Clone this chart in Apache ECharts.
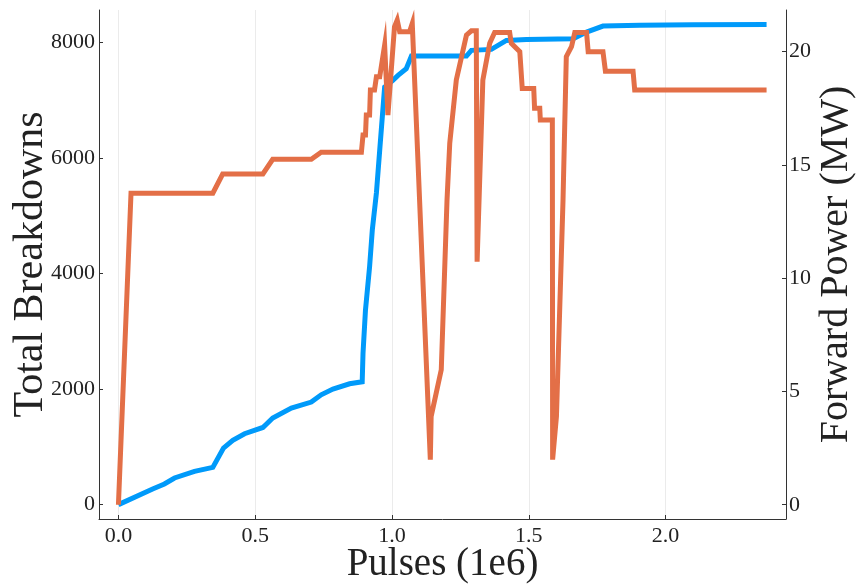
<!DOCTYPE html>
<html>
<head>
<meta charset="utf-8">
<script src="https://cdn.jsdelivr.net/npm/echarts@6/dist/echarts.min.js"></script>
<style>
html,body{margin:0;padding:0;background:#fff;}
#chart{width:863px;height:586px;}
</style>
</head>
<body>
<div id="chart"></div>
<script>
// Total breakdowns (left axis)
const breakdownPulses = [0, 0.125, 0.168, 0.205, 0.278, 0.345, 0.384, 0.418, 0.461, 0.528, 0.564, 0.632, 0.705, 0.741, 0.784, 0.845, 0.891, 0.894, 0.903, 0.918, 0.928, 0.943, 0.955, 0.973, 1.003, 1.022, 1.052, 1.071, 1.272, 1.290, 1.363, 1.418, 1.491, 1.662, 1.711, 1.771, 1.906, 2.1, 2.369];
const breakdowns = [0, 271, 357, 461, 576, 645, 980, 1112, 1227, 1336, 1499, 1671, 1775, 1901, 2000, 2092, 2126, 2622, 3371, 4119, 4760, 5400, 6136, 7230, 7346, 7432, 7548, 7766, 7766, 7865, 7882, 8038, 8055, 8066, 8181, 8285, 8300, 8310, 8314];
// Forward power (right axis)
const powerPulses = [0, 0.046, 0.345, 0.381, 0.528, 0.564, 0.705, 0.741, 0.888, 0.894, 0.903, 0.906, 0.918, 0.921, 0.936, 0.943, 0.955, 0.973, 0.979, 0.985, 1.009, 1.019, 1.028, 1.064, 1.074, 1.140, 1.143, 1.180, 1.201, 1.211, 1.235, 1.272, 1.290, 1.308, 1.311, 1.332, 1.357, 1.375, 1.430, 1.436, 1.467, 1.476, 1.518, 1.521, 1.540, 1.542, 1.586, 1.587, 1.601, 1.625, 1.637, 1.656, 1.668, 1.711, 1.717, 1.771, 1.780, 1.881, 1.887, 2.369];
const power = [0, 13.75, 13.75, 14.60, 14.60, 15.25, 15.25, 15.56, 15.56, 16.32, 16.32, 17.20, 17.20, 18.31, 18.31, 18.89, 18.89, 20.29, 20.29, 17.20, 21.10, 21.40, 20.88, 20.88, 21.25, 1.99, 3.90, 5.96, 13.45, 15.96, 18.75, 20.73, 20.92, 20.92, 10.73, 18.75, 20.37, 20.85, 20.85, 20.37, 20.0, 18.38, 18.38, 17.50, 17.50, 16.98, 16.98, 1.99, 3.90, 13.45, 19.78, 20.22, 20.85, 20.85, 20.0, 20.0, 19.14, 19.14, 18.31, 18.31];
// Tick labels
const xTicks = [0, 0.5, 1.0, 1.5, 2.0];
const leftTicks = [0, 2000, 4000, 6000, 8000];
const rightTicks = [0, 5, 10, 15, 20];

const FONT = 'Liberation Serif';
const TXT = '#222';
const AX = '#333';

const chart = echarts.init(document.getElementById('chart'), null, {renderer: 'canvas'});
chart.setOption({
  animation: false,
  backgroundColor: '#fff',
  grid: {left: 99, right: 77, top: 10, bottom: 67, containLabel: false, outerBoundsMode: 'none'},
  xAxis: {
    type: 'value', min: -0.071, max: 2.44,
    name: 'Pulses (1e6)', nameLocation: 'middle', nameGap: 26, nameMoveOverlap: false,
    nameTextStyle: {fontFamily: FONT, fontSize: 39, color: TXT},
    axisLine: {show: true, onZero: false, lineStyle: {color: AX, width: 1}},
    axisTick: {show: true, inside: true, length: 4, customValues: xTicks, lineStyle: {color: AX}},
    axisLabel: {customValues: xTicks, fontFamily: FONT, fontSize: 22, color: TXT, margin: 6,
      formatter: v => v.toFixed(1)},
    splitLine: {show: true, lineStyle: {color: '#ebebeb', width: 1}}
  },
  yAxis: [{
    type: 'value', min: -249, max: 8564, position: 'left',
    name: 'Total Breakdowns', nameLocation: 'middle', nameGap: 47, nameMoveOverlap: false,
    nameTextStyle: {fontFamily: FONT, fontSize: 42, color: TXT},
    axisLine: {show: true, onZero: false, lineStyle: {color: AX, width: 1}},
    axisTick: {show: true, inside: true, length: 4, customValues: leftTicks, lineStyle: {color: AX}},
    axisLabel: {customValues: leftTicks, fontFamily: FONT, fontSize: 22, color: TXT, margin: 4,
      formatter: v => String(Math.round(v))},
    splitLine: {show: false}
  }, {
    type: 'value', min: -0.63, max: 21.84, position: 'right',
    name: 'Forward Power (MW)', nameLocation: 'middle', nameGap: 30, nameMoveOverlap: false,
    nameTextStyle: {fontFamily: FONT, fontSize: 40, color: TXT},
    axisLine: {show: true, onZero: false, lineStyle: {color: AX, width: 1}},
    axisTick: {show: true, inside: true, length: 4, customValues: rightTicks, lineStyle: {color: AX}},
    axisLabel: {customValues: rightTicks, fontFamily: FONT, fontSize: 22, color: TXT, margin: 3,
      formatter: v => String(Math.round(v))},
    splitLine: {show: false}
  }],
  series: [{
    type: 'line', yAxisIndex: 0, showSymbol: false, symbol: 'none',
    data: breakdownPulses.map((x, i) => [x, breakdowns[i]]),
    lineStyle: {color: '#009AFA', width: 5, cap: 'butt', join: 'miter'},
    itemStyle: {color: '#009AFA'}, z: 2
  }, {
    type: 'line', yAxisIndex: 1, showSymbol: false, symbol: 'none',
    data: powerPulses.map((x, i) => [x, power[i]]),
    lineStyle: {color: '#E36F47', width: 5, cap: 'butt', join: 'miter'},
    itemStyle: {color: '#E36F47'}, z: 3
  }]
});
</script>
</body>
</html>
